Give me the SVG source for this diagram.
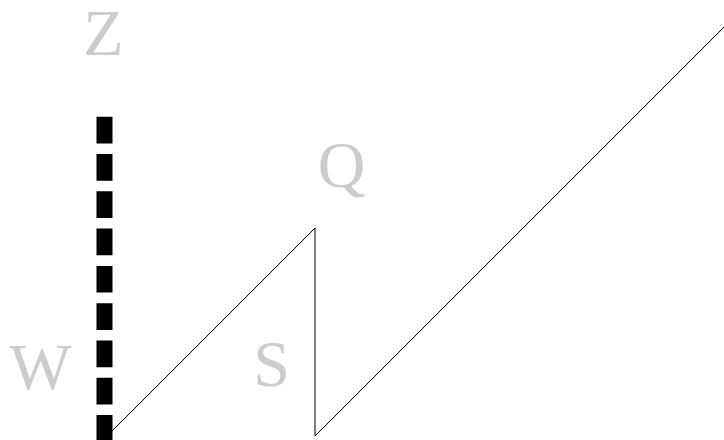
<svg xmlns="http://www.w3.org/2000/svg" width="724" height="440" viewBox="0 0 724 440">
<style>
.lbl{font-family:"Liberation Serif","Times New Roman",serif;font-size:66px;fill:#cccccc;text-anchor:middle}
.ln{fill:none;stroke:#000;stroke-width:1}
</style>
<rect width="724" height="440" fill="#fff"/>
<g id="connectors">
<line x1="104.5" y1="116.7" x2="104.5" y2="440" stroke="#000" stroke-width="16" stroke-dasharray="26.7 10.6"/>
<polyline class="ln" points="112,431 315,228 315,436 751,0"/>
</g>
<g id="Z"><text class="lbl" x="103.5" y="55">Z</text></g>
<g id="Q"><text class="lbl" x="341.5" y="187">Q</text></g>
<g id="W"><text class="lbl" x="40.5" y="389">W</text></g>
<g id="S"><text class="lbl" x="271.5" y="386">S</text></g>
</svg>
